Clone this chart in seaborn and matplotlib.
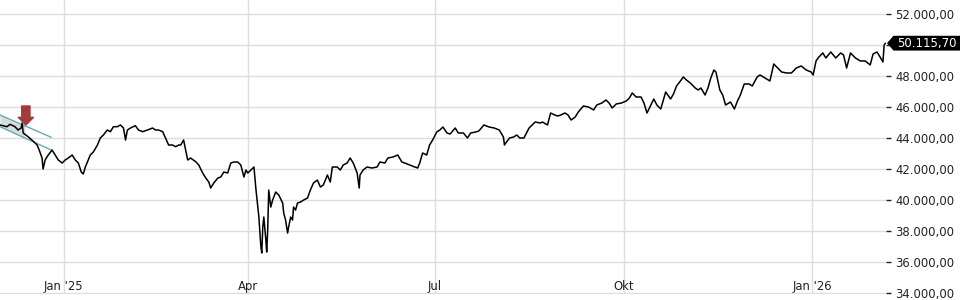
import numpy as np
import pandas as pd
import matplotlib
matplotlib.use("Agg")
import matplotlib.pyplot as plt
import matplotlib.transforms as mtransforms
from matplotlib.patches import Polygon
import seaborn as sns

# ---------------- data ----------------
START = "2024-12-01"
day_offset = [
    0.0, 2.0, 3.4, 4.9, 7.3, 8.8, 10.3, 10.8, 11.3, 13.7, 16.1, 18.1, 19.1, 20.5, 21.0,
    22.0, 23.5, 25.4, 26.9, 28.4, 30.3, 31.8, 33.3, 35.2, 36.7, 38.2, 39.6, 40.6, 41.6,
    42.6, 44.0, 45.5, 47.5, 48.9, 50.4, 52.3, 53.8, 55.3, 57.2, 58.7, 60.2, 61.2, 62.1,
    63.6, 66.0, 67.5, 69.5, 71.9, 74.4, 75.8, 77.3, 79.3, 80.7, 82.2, 84.1, 85.6, 87.1,
    88.1, 89.5, 90.5, 91.5, 92.9, 95.4, 96.9, 98.8, 100.3, 101.8, 102.7, 104.2, 106.2,
    107.6, 109.1, 111.0, 112.5, 114.0, 115.9, 117.4, 118.9, 119.9, 120.8, 122.3, 123.8,
    124.7, 125.7, 126.2, 127.1, 127.6, 128.1, 128.6, 129.6, 130.0, 130.5, 131.0, 132.0,
    132.9, 134.4, 135.9, 137.8, 138.3, 139.2, 140.2, 140.7, 141.7, 142.6, 143.1, 144.1,
    145.0, 146.5, 148.0, 149.9, 151.3, 152.8, 154.7, 156.2, 157.6, 159.6, 161.0, 162.0,
    164.4, 165.9, 167.3, 169.2, 170.7, 172.2, 174.1, 175.1, 175.5, 177.0, 178.9, 181.3,
    183.8, 185.2, 187.6, 189.1, 191.5, 193.9, 195.9, 197.3, 199.7, 202.2, 203.6, 204.6,
    206.0, 208.0, 209.4, 210.9, 212.9, 214.4, 215.9, 217.9, 219.4, 221.9, 223.4, 225.9,
    227.9, 229.4, 231.9, 233.4, 235.9, 238.4, 240.9, 243.4, 245.4, 245.9, 246.9, 248.4,
    250.4, 251.9, 253.4, 255.4, 257.9, 259.4, 260.9, 263.4, 264.4, 266.9, 268.4, 270.4,
    271.9, 273.4, 275.4, 276.9, 278.4, 280.4, 281.9, 284.4, 286.9, 289.4, 290.9, 293.4,
    295.4, 296.9, 298.4, 300.4, 302.9, 305.3, 306.8, 308.2, 310.1, 312.5, 313.9, 315.4,
    317.3, 318.7, 320.2, 322.1, 324.5, 326.9, 328.3, 329.8, 331.7, 333.1, 334.6, 336.5,
    338.9, 340.3, 341.7, 343.7, 345.1, 346.5, 348.0, 349.0, 350.9, 352.3, 353.7, 356.1,
    358.0, 359.5, 360.9, 362.8, 365.2, 366.7, 369.1, 370.5, 372.9, 375.3, 377.2, 379.6,
    381.0, 383.4, 385.8, 388.2, 390.6, 393.0, 395.4, 396.4, 397.8, 399.2, 401.1, 402.6,
    405.0, 407.4, 409.8, 411.2, 412.7, 414.6, 417.0, 419.4, 421.8, 424.2, 425.6, 427.5,
    429.0, 430.4, 431.0, 431.6,
]
close = [
    44840, 44774, 44729, 44884, 44729, 44516, 44645, 44968, 44323, 44084, 43806, 43548, 43226, 42710, 42000,
    42581, 42903, 43226, 42903, 42581, 42387, 42581, 42710, 42903, 42581, 42387, 41806, 41677, 42129,
    42452, 42903, 43097, 43548, 44000, 44194, 44516, 44406, 44729, 44729, 44840, 44645, 43871, 44516,
    44645, 44794, 44516, 44406, 44516, 44645, 44516, 44516, 44406, 44000, 43548, 43548, 43439, 43548,
    43548, 43871, 43226, 42581, 42710, 42471, 42258, 41742, 41419, 41161, 40774, 41097, 41419,
    41484, 41806, 41742, 42387, 42452, 42452, 42258, 41484, 41935, 41742, 41935, 42129,
    40774, 39484, 38903, 37097, 36581, 38258, 38903, 37419, 36645, 38065, 40645, 39548,
    40000, 40516, 40323, 39806, 39161, 38710, 37871, 38258, 38903, 38710, 39548, 39355,
    39806, 39871, 40000, 40129, 40645, 41097, 41290, 40839, 40968, 41613, 41161, 42129,
    42129, 41935, 42258, 42387, 42710, 42387, 41742, 40774, 41613, 41935, 42129, 42065,
    42129, 42452, 42387, 42710, 42774, 42903, 42452, 42387, 42258, 42129, 42065, 42387,
    43032, 42903, 43548, 43871, 44387, 44516, 44710, 44323, 44258, 44645, 44323, 44323,
    44000, 44323, 44387, 44452, 44839, 44710, 44645, 44516, 44065, 43548, 43742, 44000,
    44065, 44194, 44000, 44000, 44645, 44839, 45032, 44968, 45032, 44839, 45613, 45484,
    45419, 45484, 45613, 45484, 45161, 45355, 45677, 46065, 46000, 45806, 46129, 46258,
    46452, 46258, 45935, 46194, 46258, 46387, 46581, 46903, 46645, 46645, 46258, 45613,
    46129, 46516, 46129, 45871, 46968, 46516, 46839, 47355, 47677, 47935, 47742, 47548,
    47226, 47097, 47226, 46774, 47226, 47871, 48387, 48258, 47097, 46774, 46129, 46323,
    45871, 46387, 46774, 47484, 47484, 47355, 47935, 48065, 47871, 47677, 48774, 48452,
    48258, 48194, 48194, 48516, 48645, 48387, 48258, 48065, 48968, 49226, 49484, 49161,
    49548, 49161, 49484, 49355, 48516, 49484, 49161, 48968, 48968, 48710, 49419, 49548,
    49226, 48903, 50000, 50115.70,
]
last_value = 50115.70

tick_dates = ["2025-01-01", "2025-04-01", "2025-07-01", "2025-10-01", "2026-01-01"]
tick_labels = ["Jan '25", "Apr", "Jul", "Okt", "Jan '26"]
y_ticks = [34000, 36000, 38000, 40000, 42000, 44000, 46000, 48000, 50000, 52000]

# trend channel + signal arrow (annotation)
channel_days = [0.0, 25.0]
channel_upper = [45484, 44045]
channel_lower = [44729, 43226]
channel_fill_days = [0.0, 12.2]
arrow_day = 12.6
arrow_tip = 44839
arrow_tail = 46065

# ---------------- plotting ----------------
start = pd.Timestamp(START)
df = pd.DataFrame({
    "date": start + pd.to_timedelta(day_offset, unit="D"),
    "close": close,
})

sns.set_style("white")
plt.rcParams["font.family"] = ["DejaVu Sans"]

W, H = 960, 300
fig = plt.figure(figsize=(W / 100, H / 100), dpi=100)
ax = fig.add_axes([0, 6 / H, 886 / W, 1 - 6 / H])

# channel
cd = start + pd.to_timedelta(channel_days, unit="D")
fd = np.array(channel_fill_days)
fu = np.interp(fd, channel_days, channel_upper)
fl = np.interp(fd, channel_days, channel_lower)
ax.fill_between(start + pd.to_timedelta(fd, unit="D"), fl, fu,
                color="#d3d7d7", alpha=0.85, lw=0, zorder=1)
ax.plot(cd, channel_upper, color="#62adb3", lw=1.0, zorder=2)
ax.plot(cd, channel_lower, color="#62adb3", lw=1.0, zorder=2)

sns.lineplot(data=df, x="date", y="close", estimator=None, sort=False,
             color="black", lw=1.1, ax=ax, zorder=3)

# signal arrow
ad = start + pd.Timedelta(days=arrow_day)
ax.annotate("", xy=(ad, arrow_tip), xytext=(ad, arrow_tail),
            arrowprops=dict(arrowstyle="simple,head_length=0.55,head_width=1.1,tail_width=0.6",
                            fc="#a23b39", ec="#a23b39", shrinkA=0, shrinkB=0,
                            mutation_scale=10),
            zorder=5)

ax.set_xlim(start, start + pd.Timedelta(days=431.9))
ax.set_ylim(33940, 52900)

ax.set_xticks(pd.to_datetime(tick_dates))
ax.set_xticklabels(tick_labels)
ax.set_yticks(y_ticks)

def de_fmt(v):
    s = f"{v:,.2f}"
    return s.replace(",", "X").replace(".", ",").replace("X", ".")

ax.set_yticklabels([de_fmt(v) if v != 50000 else "" for v in y_ticks])
ax.yaxis.tick_right()
ax.tick_params(axis="y", direction="out", length=3.6, width=1, pad=3,
               labelsize=8.4, colors="#222222")
ax.tick_params(axis="x", direction="out", length=3.6, width=1, pad=-13.7,
               labelsize=8.4, colors="#222222")
ax.grid(True, color="#dddddd", lw=1)
ax.set_axisbelow(True)
for s in ax.spines.values():
    s.set_visible(False)
ax.set_xlabel("")
ax.set_ylabel("")

# last value badge
fig.canvas.draw()
yc = ax.transData.transform((0, last_value))[1]
x0 = ax.transAxes.transform((1, 0))[0]
hh = 7.4
poly = Polygon([(x0 + 1, yc), (x0 + 7.5, yc + hh), (W, yc + hh), (W, yc - hh), (x0 + 7.5, yc - hh)],
               closed=True, fc="black", ec="none", transform=mtransforms.IdentityTransform(),
               zorder=10)
fig.patches.append(poly)
fig.text(x0 + 11, yc, de_fmt(last_value), color="white", fontsize=8.4, va="center", ha="left",
         transform=mtransforms.IdentityTransform(), zorder=11)

fig.savefig("out.png", dpi=100)
